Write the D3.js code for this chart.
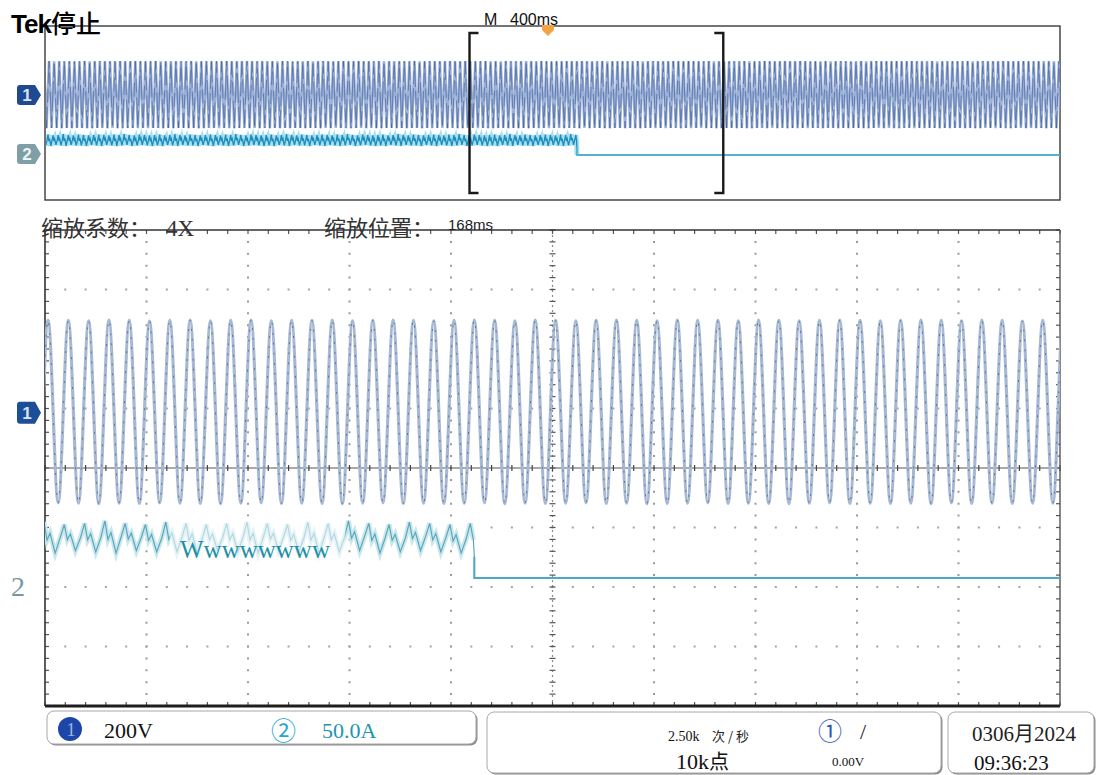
<!DOCTYPE html>
<html><head><meta charset="utf-8">
<script src="https://cdn.jsdelivr.net/npm/d3@7"></script>
<style>
html,body{margin:0;padding:0;background:#fff;}
svg{display:block;}
</style></head><body>
<svg id="scope" width="1099" height="775"></svg>
<script>
// ---------- acquisition data ----------
// CH1 line voltage (V): peak of each 20 ms cycle in the zoom window (t = 3, 23, ... 1003 ms)
const ch1Peaks = [309, 311, 310, 309, 311, 310, 308, 310, 311, 309,
                  310, 311, 309, 310, 310, 311, 309, 310, 311, 310,
                  309, 310, 311, 310, 309, 311, 310, 309, 310, 311,
                  310, 309, 311, 310, 310, 309, 311, 310, 309, 310,
                  311, 310, 309, 310, 311, 310, 309, 311, 310, 308, 310];
// CH1 trough of each cycle (t = -7, 13, ... 993 ms)
const ch1Troughs = [-304, -305, -303, -304, -306, -304, -305, -303, -304, -305,
                    -306, -304, -303, -305, -304, -305, -306, -304, -303, -305,
                    -304, -305, -304, -303, -306, -304, -305, -304, -303, -305,
                    -304, -306, -305, -304, -303, -305, -304, -305, -306, -304,
                    -303, -305, -304, -305, -304, -306, -303, -305, -304, -305, -304];
const ch1Period = 20;      // ms
const ch1FirstPeak = 3;    // ms, zoom window time

// CH2 current (A): per-cycle high and low before the current drops out
const ch2Peaks   = [46, 47, 45, 46, 48, 46, 45, 47, 46, 45, 46, 47, 46, 45, 47, 46, 48, 46, 45, 47, 46, 45];
const ch2Troughs = [22, 21, 23, 22, 21, 23, 22, 22, 21, 23, 22, 21, 23, 22, 21, 22, 23, 21, 22, 23, 22, 21];
// shape inside one cycle: [offset ms, fraction between low and high]
const ch2Shape = [[0, 1.0], [3, 0.42], [6, 0.64], [11, 0.0], [16, 0.5]];
const ch2FirstPeak = -1;   // ms, zoom window time
const ch2DropTime = 423;   // ms, zoom window time
const ch2DropEdge = 18;    // A, level at the falling edge

// timebase
const overviewSpan = 4000;  // ms (400 ms/div)
const zoomSpan = 1000;      // ms (4X zoom)
const zoomStart = 1673;     // ms, start of zoom window in the record
const triggerTime = 1982;   // ms, in the record

// readouts
const titleTek = "Tek", titleState = "停止";
const timebaseLabel = "M", timebaseValue = "400ms";
const zoomFactorLabel = "缩放系数：", zoomFactorValue = "4X";
const zoomPosLabel = "缩放位置：", zoomPosValue = "168ms";
const ch1Scale = "200V", ch2Scale = "50.0A";
const sampleRate = "2.50k", sampleUnit = "次 / 秒";
const recordLength = "10k点", trigLevel = "0.00V";
const dateText = "0306月2024", timeText = "09:36:23";
const ch2Note = "Wwwwwwww";

// ---------- layout ----------
const main = {x0: 45, x1: 1060, y0: 230, y1: 706};
const ov = {x0: 45, x1: 1060, y0: 26, y1: 200};

const svg = d3.select("#scope");
const serif = "'Liberation Serif','DejaVu Serif',serif";
const sans = "'Liberation Sans','DejaVu Sans',sans-serif";
const cjk = "'Noto Sans CJK SC','Noto Sans',sans-serif";

// scales
const divX = d3.scaleLinear().domain([0, 10]).range([main.x0, main.x1]);
const divY = d3.scaleLinear().domain([0, 8]).range([main.y0, main.y1]);
const mainX = d3.scaleLinear().domain([0, zoomSpan]).range([main.x0, main.x1]);
const ovX = d3.scaleLinear().domain([0, overviewSpan]).range([ov.x0, ov.x1]);
function chanScale(perDiv, posDiv, top, bottom) {
  return d3.scaleLinear().domain([-perDiv * (4 + posDiv), perDiv * (4 - posDiv)]).range([bottom, top]);
}
const ch1Y = chanScale(200, 0.93, main.y0, main.y1);
const ch2Y = chanScale(50, -1.85, main.y0, main.y1);
const ovCh1Y = chanScale(200, 0.83, ov.y0, ov.y1);
const ovCh2Y = chanScale(50, -1.93, ov.y0, ov.y1);

const defs = svg.append("defs");
defs.append("clipPath").attr("id", "clipMain").append("rect")
  .attr("x", main.x0).attr("y", main.y0).attr("width", main.x1 - main.x0).attr("height", main.y1 - main.y0);
defs.append("clipPath").attr("id", "clipOv").append("rect")
  .attr("x", ov.x0 + 1).attr("y", ov.y0).attr("width", ov.x1 - ov.x0 - 1).attr("height", ov.y1 - ov.y0);
defs.append("filter").attr("id", "soft").append("feGaussianBlur").attr("stdDeviation", 0.7);

// ---------- waveform point sets ----------
function ch1Points(offset, t0, t1) {
  // extrema of the voltage, peaks and troughs alternating
  const pts = [];
  const n = ch1Peaks.length;
  for (let k = -1; ; k++) {
    const tTr = offset - ch1Period / 2 + k * ch1Period;
    const tPk = offset + k * ch1Period;
    if (tTr > t1 + ch1Period) break;
    const idx = ((k + 1) % n + n) % n;
    if (tTr >= t0 - ch1Period) pts.push([tTr, ch1Troughs[idx]]);
    if (tPk >= t0 - ch1Period) pts.push([tPk, ch1Peaks[idx % n]]);
  }
  return pts;
}
function ch2Points(offset, t0, drop) {
  const pts = [];
  const n = ch2Peaks.length;
  for (let k = -1; ; k++) {
    const base = offset + k * ch1Period;
    if (base > drop) break;
    const idx = ((k + 1) % n + n) % n;
    const hi = ch2Peaks[idx], lo = ch2Troughs[idx];
    ch2Shape.forEach(([dt, f]) => {
      const t = base + dt;
      if (t >= t0 - 20 && t < drop) pts.push([t, lo + f * (hi - lo)]);
    });
  }
  pts.push([drop, ch2DropEdge]);
  pts.push([drop, 0]);
  return pts;
}

// ---------- overview (whole record) ----------
const ovG = svg.append("g");
ovG.append("rect").attr("x", ov.x0).attr("y", ov.y0).attr("width", ov.x1 - ov.x0).attr("height", ov.y1 - ov.y0)
  .attr("fill", "#fff").attr("stroke", "#3a3a3a").attr("stroke-width", 1.4);

const ovTraces = ovG.append("g").attr("clip-path", "url(#clipOv)");
const ovCh1 = ch1Points(zoomStart + ch1FirstPeak - Math.floor((zoomStart + ch1FirstPeak) / ch1Period) * ch1Period, 0, overviewSpan);
const ovLine1 = d3.line().x(d => ovX(d[0])).y(d => ovCh1Y(d[1]));
ovTraces.append("path").attr("d", ovLine1(ovCh1)).attr("fill", "none")
  .attr("stroke", "#9fb2d6").attr("stroke-width", 2.6);
ovTraces.append("path").attr("d", ovLine1(ovCh1)).attr("fill", "none")
  .attr("stroke", "#2f5299").attr("stroke-width", 0.8).attr("stroke-opacity", 0.7)
  .attr("stroke-dasharray", "14,5,30,4");

const ch2OvOffset = zoomStart + ch2FirstPeak - Math.floor((zoomStart + ch2FirstPeak) / ch1Period) * ch1Period;
const ovCh2 = ch2Points(ch2OvOffset, 0, zoomStart + ch2DropTime);
ovCh2.push([overviewSpan, 0]);
const ovLine2 = d3.line().x(d => ovX(d[0])).y(d => ovCh2Y(d[1]));
ovTraces.append("path").attr("d", ovLine2(ovCh2.filter(d => d[0] <= zoomStart + ch2DropTime))).attr("fill", "none")
  .attr("stroke", "#a5e0f2").attr("stroke-width", 5);
ovTraces.append("path").attr("d", ovLine2(ovCh2)).attr("fill", "none")
  .attr("stroke", "#1f8bbb").attr("stroke-width", 1.3);
ovTraces.append("path").attr("d", ovLine2(ovCh2.filter(d => d[0] >= zoomStart + ch2DropTime))).attr("fill", "none")
  .attr("stroke", "#55b6cf").attr("stroke-width", 1.6);

// zoom window brackets
const bx0 = ovX(zoomStart), bx1 = ovX(zoomStart + zoomSpan);
const bTop = ov.y0 + 7, bBot = ov.y1 - 7;
ovG.append("path").attr("d", `M${bx0 + 9},${bTop} H${bx0} V${bBot} H${bx0 + 9}`)
  .attr("fill", "none").attr("stroke", "#1a1a1a").attr("stroke-width", 2.4);
ovG.append("path").attr("d", `M${bx1 - 9},${bTop} H${bx1} V${bBot} H${bx1 - 9}`)
  .attr("fill", "none").attr("stroke", "#1a1a1a").attr("stroke-width", 2.4);

// trigger position marker
const tx = ovX(triggerTime);
ovG.append("path").attr("d", `M${tx - 6},${ov.y0 - 1} H${tx + 6} V${ov.y0 + 4} L${tx},${ov.y0 + 10} L${tx - 6},${ov.y0 + 4} Z`)
  .attr("fill", "#f4a444").attr("filter", "url(#soft)");

// channel markers
function chMarker(parent, x, y, h, color, label, textColor) {
  const w = 18, p = 6, r = 3, hh = h / 2;
  parent.append("path")
    .attr("d", `M${x + r},${y - hh} H${x + w} L${x + w + p},${y} L${x + w},${y + hh} H${x + r} Q${x},${y + hh} ${x},${y + hh - r} V${y - hh + r} Q${x},${y - hh} ${x + r},${y - hh} Z`)
    .attr("fill", color);
  parent.append("text").attr("x", x + w / 2 + 1).attr("y", y + 6).attr("text-anchor", "middle")
    .attr("font-family", sans).attr("font-weight", "bold").attr("font-size", 17).attr("fill", textColor).text(label);
}
chMarker(ovG, 17, ovCh1Y(0), 20, "#1f4a92", "1", "#d8e4f6");
chMarker(ovG, 17, ovCh2Y(0) - 1, 20, "#7f9ea6", "2", "#eef4f5");

// ---------- zoom window ----------
const mG = svg.append("g");

// graticule dots
const vDots = d3.range(1, 10).filter(i => i !== 5);
const hDots = d3.range(1, 8).filter(j => j !== 4);
const minorX = (divX(1) - divX(0)) / 5, minorY = (divY(1) - divY(0)) / 5;
mG.append("g").selectAll("line").data(vDots).join("line")
  .attr("x1", d => divX(d)).attr("x2", d => divX(d)).attr("y1", main.y0 + minorY - 1).attr("y2", main.y1)
  .attr("stroke", "#9a9a9a").attr("stroke-width", 2).attr("stroke-dasharray", `2,${minorY - 2}`);
mG.append("g").selectAll("line").data(hDots).join("line")
  .attr("y1", d => divY(d)).attr("y2", d => divY(d)).attr("x1", main.x0 + minorX - 1).attr("x2", main.x1)
  .attr("stroke", "#a3a3a3").attr("stroke-width", 2).attr("stroke-dasharray", `2,${minorX - 2}`);

// center axes with minor ticks
const cx = divX(5), cy = divY(4);
mG.append("line").attr("x1", main.x0).attr("x2", main.x1).attr("y1", cy).attr("y2", cy)
  .attr("stroke", "#555").attr("stroke-width", 1.2);
mG.append("line").attr("x1", cx).attr("x2", cx).attr("y1", main.y0).attr("y2", main.y1)
  .attr("stroke", "#8a8a8a").attr("stroke-width", 1.2).attr("stroke-dasharray", "2,3");
const ticksX = d3.range(0, 50.01, 1).map(i => divX(i / 5));
const ticksY = d3.range(0, 40.01, 1).map(i => divY(i / 5));
mG.append("g").selectAll("line").data(ticksX).join("line")
  .attr("x1", d => d).attr("x2", d => d).attr("y1", cy - 3).attr("y2", cy + 3).attr("stroke", "#444").attr("stroke-width", 1.2);
mG.append("g").selectAll("line").data(ticksY).join("line")
  .attr("y1", d => d).attr("y2", d => d).attr("x1", cx - 3).attr("x2", cx + 3).attr("stroke", "#555").attr("stroke-width", 1.2);

// frame edge ticks
const edge = mG.append("g").attr("stroke", "#555").attr("stroke-width", 1.2);
edge.selectAll(".tt").data(ticksX).join("line").attr("class", "tt")
  .attr("x1", d => d).attr("x2", d => d).attr("y1", main.y0).attr("y2", main.y0 + 4);
edge.selectAll(".tb").data(ticksX).join("line").attr("class", "tb")
  .attr("x1", d => d).attr("x2", d => d).attr("y1", main.y1 - 4).attr("y2", main.y1);
edge.selectAll(".tl").data(ticksY).join("line").attr("class", "tl")
  .attr("y1", d => d).attr("y2", d => d).attr("x1", main.x0).attr("x2", main.x0 + 4);
edge.selectAll(".tr").data(ticksY).join("line").attr("class", "tr")
  .attr("y1", d => d).attr("y2", d => d).attr("x1", main.x1 - 4).attr("x2", main.x1);

// frame
mG.append("line").attr("x1", main.x0).attr("x2", main.x1).attr("y1", main.y0).attr("y2", main.y0)
  .attr("stroke", "#333").attr("stroke-width", 1.5);
mG.append("line").attr("x1", main.x0).attr("x2", main.x0).attr("y1", main.y0).attr("y2", main.y1)
  .attr("stroke", "#333").attr("stroke-width", 1.6);
mG.append("line").attr("x1", main.x1).attr("x2", main.x1).attr("y1", main.y0).attr("y2", main.y1)
  .attr("stroke", "#555").attr("stroke-width", 1.4);
mG.append("line").attr("x1", main.x0).attr("x2", main.x1).attr("y1", main.y1).attr("y2", main.y1)
  .attr("stroke", "#1e1e1e").attr("stroke-width", 3.2);

const traces = mG.append("g").attr("clip-path", "url(#clipMain)");

// CH1 voltage
const mCh1 = ch1Points(ch1FirstPeak, 0, zoomSpan);
const line1 = d3.line().x(d => mainX(d[0])).y(d => ch1Y(d[1])).curve(d3.curveMonotoneX);
traces.append("path").attr("d", line1(mCh1)).attr("fill", "none")
  .attr("stroke", "#a7b8d2").attr("stroke-width", 3.2);
traces.append("path").attr("d", line1(mCh1)).attr("fill", "none")
  .attr("stroke", "#4a6594").attr("stroke-width", 1).attr("stroke-dasharray", "2,8").attr("stroke-opacity", 0.8);

// CH2 current
const mCh2 = ch2Points(ch2FirstPeak, 0, ch2DropTime);
mCh2.push([zoomSpan, 0]);
const line2 = d3.line().x(d => mainX(d[0])).y(d => ch2Y(d[1]));
traces.append("path").attr("d", line2(mCh2.filter(d => d[0] < ch2DropTime))).attr("fill", "none")
  .attr("stroke", "#cbe7ee").attr("stroke-width", 5);
traces.append("path").attr("d", line2(mCh2)).attr("fill", "none")
  .attr("stroke", "#5aa8bb").attr("stroke-width", 1.2);
traces.append("path").attr("d", line2(mCh2.filter(d => d[0] >= ch2DropTime))).attr("fill", "none")
  .attr("stroke", "#4aa9c4").attr("stroke-width", 2);

// washed band behind the CH2 note
traces.append("rect").attr("x", mainX(123)).attr("y", ch2Y(52)).attr("width", mainX(296) - mainX(123)).attr("height", ch2Y(14) - ch2Y(52))
  .attr("fill", "#fff").attr("fill-opacity", 0.55);
mG.append("text").attr("x", mainX(133)).attr("y", 558).attr("font-family", serif).attr("font-size", 25)
  .attr("fill", "#1d8fa6").text(ch2Note);

// channel labels on the left
chMarker(mG, 17, ch1Y(0), 22, "#1d4f98", "1", "#d8e4f6");
mG.append("text").attr("x", 11).attr("y", ch2Y(0) + 18).attr("font-family", serif).attr("font-size", 28)
  .attr("fill", "#7995a1").text("2");

// ---------- header texts ----------
const title = svg.append("text").attr("x", 11).attr("y", 33).attr("font-family", sans).attr("font-size", 26)
  .attr("font-weight", "bold").attr("fill", "#000");
title.append("tspan").attr("letter-spacing", -1).text(titleTek);
title.append("tspan").attr("font-family", cjk).attr("font-weight", 500).attr("font-size", 25).text(titleState);

svg.append("text").attr("x", 484).attr("y", 25).attr("font-family", sans).attr("font-size", 16).attr("fill", "#111").text(timebaseLabel);
svg.append("text").attr("x", 510).attr("y", 25).attr("font-family", sans).attr("font-size", 16).attr("fill", "#111").text(timebaseValue);

svg.append("text").attr("x", 41).attr("y", 236).attr("font-family", cjk).attr("font-size", 22).attr("fill", "#333").text(zoomFactorLabel);
svg.append("text").attr("x", 166).attr("y", 236).attr("font-family", serif).attr("font-size", 23).attr("fill", "#333").text(zoomFactorValue);
svg.append("text").attr("x", 324).attr("y", 236).attr("font-family", cjk).attr("font-size", 22).attr("fill", "#333").text(zoomPosLabel);
svg.append("text").attr("x", 448).attr("y", 230).attr("font-family", sans).attr("font-size", 15).attr("fill", "#222").text(zoomPosValue);

// ---------- status bar ----------
function panel(x, y, w, h) {
  svg.append("rect").attr("x", x + 1.5).attr("y", y + 1.5).attr("width", w).attr("height", h).attr("rx", 7)
    .attr("fill", "#8a8a8a");
  svg.append("rect").attr("x", x).attr("y", y).attr("width", w).attr("height", h).attr("rx", 7)
    .attr("fill", "#fff").attr("stroke", "#a8a8a8").attr("stroke-width", 1);
}
panel(47, 711, 429, 33);
panel(487, 712, 454, 61);
panel(948, 712, 146, 61);

// CH1 scale
svg.append("ellipse").attr("cx", 70).attr("cy", 729).attr("rx", 12).attr("ry", 12).attr("fill", "#1c47a8");
svg.append("text").attr("x", 71).attr("y", 736).attr("text-anchor", "middle").attr("font-family", serif)
  .attr("font-size", 19).attr("fill", "#9fb4e0").text("1");
svg.append("text").attr("x", 104).attr("y", 738).attr("font-family", serif).attr("font-size", 22).attr("fill", "#111").text(ch1Scale);
// CH2 scale
svg.append("text").attr("x", 271).attr("y", 740).attr("font-family", cjk).attr("font-size", 25).attr("fill", "#27a7cf").text("②");
svg.append("text").attr("x", 322).attr("y", 738).attr("font-family", serif).attr("font-size", 22).attr("fill", "#2294b2").text(ch2Scale);

// acquisition
svg.append("text").attr("x", 668).attr("y", 741).attr("font-family", serif).attr("font-size", 14).attr("fill", "#111").text(sampleRate);
svg.append("text").attr("x", 712).attr("y", 741).attr("font-family", cjk).attr("font-size", 13).attr("fill", "#222").text(sampleUnit);
svg.append("text").attr("x", 818).attr("y", 740).attr("font-family", cjk).attr("font-size", 24).attr("fill", "#2d55b8").text("①");
svg.append("text").attr("x", 860).attr("y", 739).attr("font-family", serif).attr("font-size", 22).attr("fill", "#222").text("/");
svg.append("text").attr("x", 676).attr("y", 769).attr("font-family", serif).attr("font-size", 22).attr("fill", "#111").text(recordLength.slice(0, 3))
  .append("tspan").attr("font-family", cjk).attr("font-size", 20).text(recordLength.slice(3));
svg.append("text").attr("x", 832).attr("y", 766).attr("font-family", serif).attr("font-size", 13).attr("fill", "#111").text(trigLevel);

// date and time
svg.append("text").attr("x", 972).attr("y", 741).attr("font-family", serif).attr("font-size", 21).attr("fill", "#222").text(dateText.slice(0, 4))
  .append("tspan").attr("font-family", cjk).attr("font-size", 20).text(dateText.slice(4, 5))
  .append("tspan").attr("font-family", serif).attr("font-size", 21).text(dateText.slice(5));
svg.append("text").attr("x", 974).attr("y", 770).attr("font-family", serif).attr("font-size", 21).attr("fill", "#111").text(timeText);
</script>
</body></html>
